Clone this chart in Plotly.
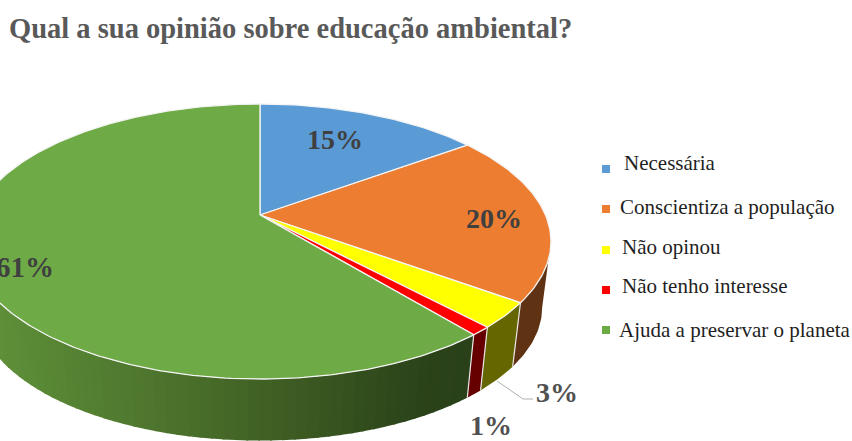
import numpy as np
import plotly.graph_objects as go

categories = ["Necessária", "Conscientiza a população", "Não opinou", "Não tenho interesse", "Ajuda a preservar o planeta"]
values = [15, 20, 3, 1, 61]
labels = ["15%", "20%", "3%", "1%", "61%"]
top_colors = ["#5B9BD5", "#ED7D31", "#FFFF00", "#FF0000", "#6EAA46"]
wall_colors = ["#34587a", "#5f3213", "#666600", "#660000", None]
title = "Qual a sua opinião sobre educação ambiental?"

W, H = 852, 441
CX, CY, RX, RY, K = 260, 215, 285.5, 132.4, 0.1927
DY, S = 66.5, 0.97
SERIF = "Liberation Serif"
APEX_DEG_VISIBLE = (101, 277)


def top(a):
    a = np.radians(a)
    w = 1 + K * np.cos(a)
    return CX + RX * np.sin(a) / w, CY - RY * np.cos(a) / w


def bottom(a):
    a = np.radians(a)
    w = 1 + K * np.cos(a)
    return CX + S * RX * np.sin(a) / w, CY + DY - S * RY * np.cos(a) / w


def green_wall(x):
    stops_x = [-40, 0, 150, 300, 420, 475]
    stops_c = np.array([[100, 150, 60], [94, 143, 56], [78, 118, 46], [60, 90, 34], [44, 68, 26], [41, 64, 25]])
    return "rgb(%d,%d,%d)" % tuple(np.interp(x, stops_x, stops_c[:, i]) for i in range(3))


fig = go.Figure()
edges = np.cumsum([0] + values) * 3.6

# side walls, front-facing part of each slice
for i in range(len(values)):
    a0 = max(edges[i], APEX_DEG_VISIBLE[0])
    a1 = min(edges[i + 1], APEX_DEG_VISIBLE[1])
    if a1 <= a0:
        continue
    if wall_colors[i] is None:
        steps = np.linspace(a0, a1, 70)
        for u, v in zip(steps[:-1], steps[1:]):
            arc = np.linspace(u, v + 0.3, 4)
            tx, ty = top(arc)
            bx, by = bottom(arc)
            fig.add_trace(go.Scatter(
                x=np.r_[tx, bx[::-1]], y=np.r_[ty, by[::-1]], mode="lines", fill="toself",
                fillcolor=green_wall(tx.mean()), line=dict(width=0), hoverinfo="skip", showlegend=False))
    else:
        arc = np.linspace(a0, a1, 30)
        tx, ty = top(arc)
        bx, by = bottom(arc)
        fig.add_trace(go.Scatter(
            x=np.r_[tx, bx[::-1]], y=np.r_[ty, by[::-1]], mode="lines", fill="toself",
            fillcolor=wall_colors[i], line=dict(width=0), hoverinfo="skip", showlegend=False))

# white dividers on the wall
for e in edges[2:5]:
    tx, ty = top(np.array([e]))
    bx, by = bottom(np.array([e]))
    fig.add_trace(go.Scatter(x=[tx[0], bx[0]], y=[ty[0], by[0]], mode="lines",
                             line=dict(color="#e8e8e8", width=1.2), hoverinfo="skip", showlegend=False))

# top face
for i, c in enumerate(categories):
    arc = np.linspace(edges[i], edges[i + 1], max(int(values[i] * 4), 6))
    ax, ay = top(arc)
    fig.add_trace(go.Scatter(
        x=np.r_[CX, ax, CX], y=np.r_[CY, ay, CY], mode="lines", fill="toself",
        fillcolor=top_colors[i], line=dict(color="#f4f4f4", width=1.3), name=c,
        hovertemplate=c + ": " + labels[i] + "<extra></extra>", showlegend=False))

# legend swatches
legend_x = [606] * 5
legend_y = [169, 209, 250, 290, 330]
fig.add_trace(go.Scatter(x=legend_x, y=legend_y, mode="markers",
                         marker=dict(symbol="square", size=8, color=top_colors),
                         hoverinfo="skip", showlegend=False))

legend_text_x = [622, 618, 620, 620, 617]
legend_text_y = [163, 207, 247, 286, 330]
annotations = [dict(x=x, y=y, text=c, xanchor="left", yanchor="middle", showarrow=False,
                    font=dict(family=SERIF, size=21, color="#1f1f1f"))
               for x, y, c in zip(legend_text_x, legend_text_y, categories)]

label_x = [335, 494, 557, 491, 25]
label_y = [139, 218, 392, 425, 267]
label_sizes = [28, 28, 28, 28, 29]
label_colors = ["#404040", "#404040", "#505050", "#505050", "#404040"]
annotations += [dict(x=x, y=y, text="<b>%s</b>" % t, xanchor="center", yanchor="middle", showarrow=False,
                     font=dict(family=SERIF, size=s, color=col))
                for x, y, t, s, col in zip(label_x, label_y, labels, label_sizes, label_colors)]
annotations.append(dict(x=7, y=28, text="<b>%s</b>" % title, xanchor="left", yanchor="middle", showarrow=False,
                        font=dict(family=SERIF, size=28.5, color="#595959")))

# leader line for the 3% label
fig.add_trace(go.Scatter(x=[497, 523, 533], y=[381, 399, 399], mode="lines",
                         line=dict(color="#b0b0b0", width=1), hoverinfo="skip", showlegend=False))

fig.update_layout(
    width=W, height=H, margin=dict(l=0, r=0, t=0, b=0), paper_bgcolor="white", plot_bgcolor="white",
    xaxis=dict(range=[0, W], visible=False, fixedrange=True),
    yaxis=dict(range=[H, 0], visible=False, fixedrange=True),
    annotations=annotations, showlegend=False)
fig.write_html("out.html", config=dict(displayModeBar=False),
               post_script="document.body.style.margin='0';document.documentElement.style.overflow='hidden';")
